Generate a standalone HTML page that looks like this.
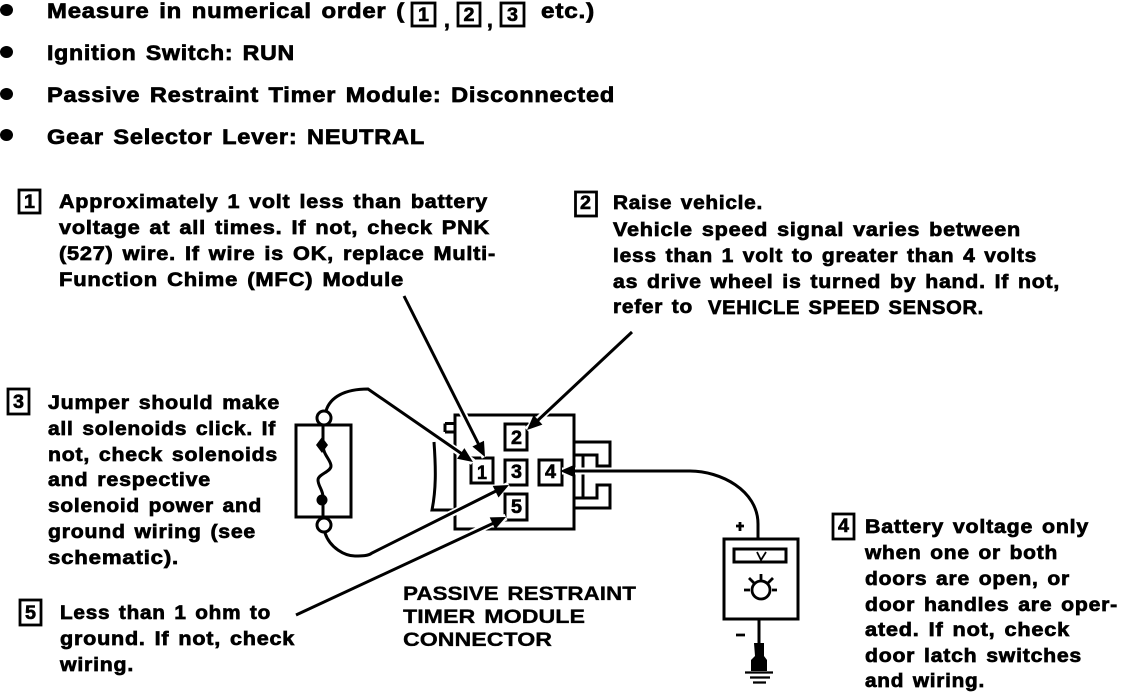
<!DOCTYPE html>
<html><head><meta charset="utf-8"><style>
html,body{margin:0;padding:0;background:#fff}
svg{display:block}
text{font-family:"Liberation Sans",sans-serif;font-weight:bold;fill:#000;stroke:#000;stroke-width:.7}
.t{font-size:21px;letter-spacing:.7px;word-spacing:2px}.b{font-size:19.500px;letter-spacing:.7px;word-spacing:2px}.n{font-size:19px;stroke-width:.6}
.c{font-size:19px;stroke-width:.3;word-spacing:2px}
.l{fill:none;stroke:#000;stroke-width:3}
.k{fill:none;stroke:#000;stroke-width:2.8}
.h{fill:none;stroke:#fff;stroke-width:7}
.w{fill:none;stroke:#000;stroke-width:3}
</style></head><body>
<svg width="1136" height="692" viewBox="0 0 1136 692" xmlns="http://www.w3.org/2000/svg">
<g fill="#000"><ellipse cx="6.500" cy="10" rx="6.500" ry="6"/><ellipse cx="6.500" cy="52" rx="6.500" ry="6"/><ellipse cx="6.500" cy="94" rx="6.500" ry="6"/><ellipse cx="6.500" cy="135" rx="6.500" ry="6"/></g>
<text class="t" x="47" y="18" textLength="358" lengthAdjust="spacingAndGlyphs">Measure in numerical order (</text>
<rect class="k" x="412" y="3" width="23" height="23"/><rect class="k" x="458" y="3" width="22" height="23"/><rect class="k" x="501" y="3" width="23" height="23"/>
<text class="n" x="418" y="21" textLength="11" lengthAdjust="spacingAndGlyphs">1</text>
<text class="n" x="463.500" y="21" textLength="11" lengthAdjust="spacingAndGlyphs">2</text>
<text class="n" x="507" y="21" textLength="11" lengthAdjust="spacingAndGlyphs">3</text>
<text class="t" x="444" y="27">,</text><text class="t" x="487" y="27">,</text>
<text class="t" x="541" y="18" textLength="54" lengthAdjust="spacingAndGlyphs">etc.)</text>
<text class="t" x="47" y="60" textLength="248" lengthAdjust="spacingAndGlyphs">Ignition Switch: RUN</text>
<text class="t" x="47" y="102" textLength="568" lengthAdjust="spacingAndGlyphs">Passive Restraint Timer Module: Disconnected</text>
<text class="t" x="47" y="144" textLength="378" lengthAdjust="spacingAndGlyphs">Gear Selector Lever: NEUTRAL</text>

<rect class="k" x="19" y="190" width="21" height="23"/><text class="n" x="24" y="208" textLength="11" lengthAdjust="spacingAndGlyphs">1</text>
<text class="b" x="59" y="208" textLength="429" lengthAdjust="spacingAndGlyphs">Approximately 1 volt less than battery</text>
<text class="b" x="59" y="234" textLength="431" lengthAdjust="spacingAndGlyphs">voltage at all times. If not, check PNK</text>
<text class="b" x="59" y="260" textLength="437" lengthAdjust="spacingAndGlyphs">(527) wire. If wire is OK, replace Multi-</text>
<text class="b" x="59" y="286" textLength="345" lengthAdjust="spacingAndGlyphs">Function Chime (MFC) Module</text>

<rect class="k" x="575.500" y="192" width="21" height="24"/><text class="n" x="580" y="209" textLength="11" lengthAdjust="spacingAndGlyphs">2</text>
<text class="b" x="613" y="209" textLength="150" lengthAdjust="spacingAndGlyphs">Raise vehicle.</text>
<text class="b" x="613" y="236" textLength="408" lengthAdjust="spacingAndGlyphs">Vehicle speed signal varies between</text>
<text class="b" x="613" y="262" textLength="424" lengthAdjust="spacingAndGlyphs">less than 1 volt to greater than 4 volts</text>
<text class="b" x="613" y="288" textLength="447" lengthAdjust="spacingAndGlyphs">as drive wheel is turned by hand. If not,</text>
<text class="b" x="613" y="313" textLength="80" lengthAdjust="spacingAndGlyphs">refer to</text>
<text class="b" x="708" y="314" textLength="276" lengthAdjust="spacingAndGlyphs">VEHICLE SPEED SENSOR.</text>

<rect class="k" x="8" y="389" width="21" height="25"/><text class="n" x="13" y="408" textLength="11" lengthAdjust="spacingAndGlyphs">3</text>
<text class="b" x="48" y="409" textLength="232" lengthAdjust="spacingAndGlyphs">Jumper should make</text>
<text class="b" x="48" y="435" textLength="228" lengthAdjust="spacingAndGlyphs">all solenoids click. If</text>
<text class="b" x="48" y="461" textLength="230" lengthAdjust="spacingAndGlyphs">not, check solenoids</text>
<text class="b" x="48" y="486" textLength="163" lengthAdjust="spacingAndGlyphs">and respective</text>
<text class="b" x="48" y="512" textLength="214" lengthAdjust="spacingAndGlyphs">solenoid power and</text>
<text class="b" x="48" y="538" textLength="208" lengthAdjust="spacingAndGlyphs">ground wiring (see</text>
<text class="b" x="48" y="564" textLength="131" lengthAdjust="spacingAndGlyphs">schematic).</text>

<rect class="k" x="20" y="600" width="21" height="25"/><text class="n" x="25" y="619" textLength="11" lengthAdjust="spacingAndGlyphs">5</text>
<text class="b" x="60" y="619" textLength="211" lengthAdjust="spacingAndGlyphs">Less than 1 ohm to</text>
<text class="b" x="60" y="645" textLength="235" lengthAdjust="spacingAndGlyphs">ground. If not, check</text>
<text class="b" x="60" y="671" textLength="74" lengthAdjust="spacingAndGlyphs">wiring.</text>

<rect class="k" x="833" y="514" width="21" height="25"/><text class="n" x="838" y="532" textLength="11" lengthAdjust="spacingAndGlyphs">4</text>
<text class="b" x="865" y="533" textLength="224" lengthAdjust="spacingAndGlyphs">Battery voltage only</text>
<text class="b" x="865" y="559" textLength="193" lengthAdjust="spacingAndGlyphs">when one or both</text>
<text class="b" x="865" y="585" textLength="205" lengthAdjust="spacingAndGlyphs">doors are open, or</text>
<text class="b" x="865" y="611" textLength="253" lengthAdjust="spacingAndGlyphs">door handles are oper-</text>
<text class="b" x="865" y="636" textLength="205" lengthAdjust="spacingAndGlyphs">ated. If not, check</text>
<text class="b" x="865" y="662" textLength="217" lengthAdjust="spacingAndGlyphs">door latch switches</text>
<text class="b" x="865" y="687" textLength="120" lengthAdjust="spacingAndGlyphs">and wiring.</text>

<text class="c" x="403" y="600" textLength="233" lengthAdjust="spacingAndGlyphs">PASSIVE RESTRAINT</text>
<text class="c" x="403" y="623" textLength="182" lengthAdjust="spacingAndGlyphs">TIMER MODULE</text>
<text class="c" x="403" y="646" textLength="149" lengthAdjust="spacingAndGlyphs">CONNECTOR</text>

<!-- solenoid -->
<rect class="l" x="296" y="425" width="55" height="92"/>
<circle class="l" cx="324" cy="418" r="7"/><circle class="l" cx="324" cy="525" r="7"/>
<path class="l" d="M323 425V445C323 455 331 460 331 466C331 472 318 474 318 480C318 486 323 490 323 497V517"/>
<path d="M322 437L328 445L322 453L316 445z" fill="#000"/><circle cx="322" cy="500" r="5.500" fill="#000"/>

<!-- connector -->
<rect class="l" x="455" y="415" width="119" height="114"/>
<path class="l" d="M445 432H455M445 423.500H455M445 423.500V432M434 442C436 470 436 490 432 510H455"/>
<path class="l" d="M575 442H610V466H597V455H575M575 508H610V485H597V498H575M583 455V498"/>
<rect class="l" x="471" y="458" width="22" height="25"/><text class="n" x="477" y="479" textLength="10" lengthAdjust="spacingAndGlyphs">1</text>
<rect class="l" x="505" y="424" width="22" height="26"/><text class="n" x="511" y="444" textLength="11" lengthAdjust="spacingAndGlyphs">2</text>
<rect class="l" x="505" y="460" width="22" height="25"/><text class="n" x="511" y="478" textLength="11" lengthAdjust="spacingAndGlyphs">3</text>
<rect class="l" x="539" y="460" width="23" height="25"/><text class="n" x="545" y="478" textLength="11" lengthAdjust="spacingAndGlyphs">4</text>
<rect class="l" x="505" y="494" width="22" height="26"/><text class="n" x="511" y="513" textLength="11" lengthAdjust="spacingAndGlyphs">5</text>

<!-- halos -->
<path class="h" d="M404 296L485 457M632 332L527 430M368 389L473 462M372 553L509 485M296 615L506 517M690 471H562"/>
<!-- leaders -->
<path class="w" d="M326 411C330 397 345 389 368 389L465 456"/>
<path class="w" d="M325 533C330 548 345 556 355 556C362 556 368 556 372 553L500 489"/>
<path class="w" d="M296 615L496 522"/>
<path class="w" d="M404 296L480 447"/>
<path class="w" d="M632 332L535 423"/>
<path class="w" d="M758 540V524C758 490 720 471 690 471H570"/>
<g fill="#000">
<polygon points="485,457 484,440.700 472.400,446.500"/>
<polygon points="527,430 542.400,424.600 533.600,415"/>
<polygon points="473,462 464.400,448.100 457,458.700"/>
<polygon points="509,485 498.500,497.500 492.700,485.900"/>
<polygon points="506,517 495.200,529.200 489.700,517.400"/>
<polygon points="560,471 575,464.500 575,477.500"/>
</g>
<!-- meter -->
<rect class="l" x="724" y="539" width="74" height="80"/>
<rect class="l" x="734" y="549" width="52" height="13"/>
<path d="M757 552L761 560L766 552" fill="none" stroke="#000" stroke-width="1.8"/>
<circle class="k" cx="761" cy="590" r="9"/>
<path class="k" d="M744 590H750M772 590H777M761 574V580M749 578L754 583M773 578L768 583"/>
<path class="k" d="M736 526H744M740 522V531M736 635H745"/>
<path d="M759 620V645" stroke="#000" stroke-width="3"/>
<path d="M754 643H764V656L767 660V671H751V660L755 656z" fill="#000"/>
<path d="M745 672.500H773M750 677.500H770M753 682.500H766" stroke="#000" stroke-width="2.200"/>
</svg>
</body></html>
